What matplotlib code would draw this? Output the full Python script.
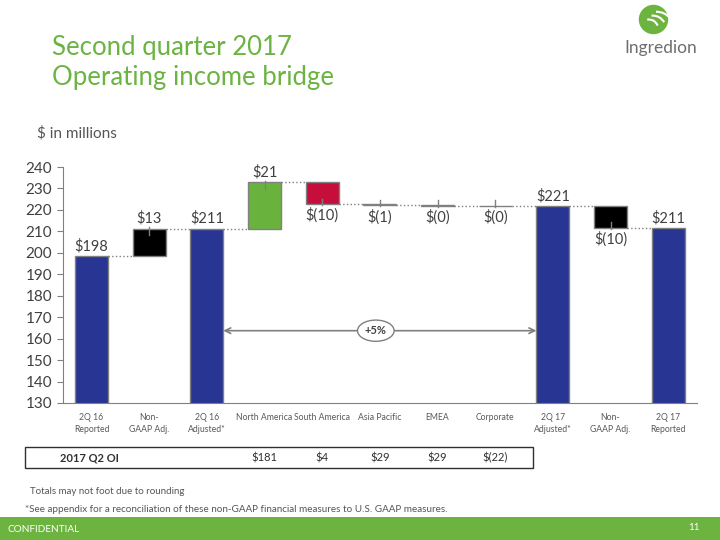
import matplotlib.pyplot as plt
from matplotlib.patches import Rectangle, Circle, Arc
from matplotlib.transforms import blended_transform_factory
import numpy as np

plt.rcParams['font.family'] = ['Lato', 'DejaVu Sans']

# bridge data ($ in millions)
categories = ['2Q 16\nReported', 'Non-\nGAAP Adj.', '2Q 16\nAdjusted*', 'North America', 'South America',
              'Asia Pacific', 'EMEA', 'Corporate', '2Q 17\nAdjusted*', 'Non-\nGAAP Adj.', '2Q 17\nReported']
values = [198.3, 13.0, 211.3, 21.6, -10.1, -0.6, -0.2, -0.1, 221.9, -10.2, 211.7]
is_total = [True, False, True, False, False, False, False, False, True, False, True]
value_labels = ['$198', '$13', '$211', '$21', '$(10)', '$(1)', '$(0)', '$(0)', '$221', '$(10)', '$211']
colors = ['#283593', '#000000', '#283593', '#6AB23E', '#C50E3C', '#C50E3C', '#C50E3C', '#C50E3C',
          '#283593', '#000000', '#283593']

# segment operating income table
table_title = '2017 Q2 OI'
table_cats = [3, 4, 5, 6, 7]
table_values = ['$181', '$4', '$29', '$29', '$(22)']
growth_label = '+5%'

GRAY = '#808080'
TEXT = '#404040'
GREEN = '#6BB342'

fig = plt.figure(figsize=(7.2, 5.4), dpi=100)
ax = fig.add_axes([62.7 / 720, 1 - 403 / 540, (697 - 62.7) / 720, (403 - 167) / 540])

x = np.arange(len(values))
w = 0.57
bottoms, tops = [], []
level = 0
for v, t in zip(values, is_total):
    if t:
        level = v
        bottoms.append(0)
        tops.append(v)
    else:
        start = level
        level = level + v
        bottoms.append(min(start, level))
        tops.append(max(start, level))
bottoms = np.array(bottoms)
tops = np.array(tops)

ax.bar(x, tops - bottoms, bottom=bottoms, width=w, color=colors, edgecolor=GRAY, linewidth=1, zorder=2)

# connectors and labels
level = 0
for i, (v, t) in enumerate(zip(values, is_total)):
    level = v if t else level + v
    if i < len(values) - 1:
        ax.plot([i + w / 2, i + 1 - w / 2], [level, level], color=GRAY, ls=':', lw=1, zorder=1)
    if t or v > 0:
        ax.text(i, tops[i] + 1.2, value_labels[i], ha='center', va='bottom', fontsize=10.5, color=TEXT)
        if not t:
            ax.plot([i, i], [tops[i] + 0.7, tops[i] - 3], color=GRAY, lw=1, zorder=3)
    else:
        ax.text(i, bottoms[i] - 1.8, value_labels[i], ha='center', va='top', fontsize=10.5, color=TEXT)
        ax.plot([i, i], [bottoms[i] - 0.5, bottoms[i] + 2.5], color=GRAY, lw=1, zorder=3)

# growth arrow
ax.annotate('', xy=(8 - w / 2, 163.7), xytext=(2 + w / 2, 163.7),
            arrowprops=dict(arrowstyle='<->', color=GRAY, lw=1.2, shrinkA=0, shrinkB=0))
ax.text(4.93, 163.7, growth_label, ha='center', va='center', fontsize=8, fontweight='bold', color=TEXT,
        bbox=dict(boxstyle='ellipse,pad=0.18', fc='white', ec=GRAY, lw=1))

ax.set_xlim(-0.5, 10.5)
ax.set_ylim(130, 240)
ax.set_yticks(np.arange(130, 241, 10))
ax.set_xticks(x)
ax.set_xticklabels(categories, fontsize=6.2, color='#595959', linespacing=1.5)
ax.tick_params(axis='x', length=0, pad=7)
ax.tick_params(axis='y', labelsize=11, colors=TEXT, length=4, color=GRAY)
ax.spines['top'].set_visible(False)
ax.spines['right'].set_visible(False)
ax.spines['left'].set_color(GRAY)
ax.spines['bottom'].set_color(GRAY)

# table box
fig.patches.append(Rectangle((25 / 720, 1 - 468 / 540), (533 - 25) / 720, 21 / 540,
                             transform=fig.transFigure, fill=False, ec='#303030', lw=1))
fig.text(60 / 720, 1 - 458 / 540, table_title, fontsize=8, fontweight='bold', color='#303030', va='center')
tr = blended_transform_factory(ax.transData, fig.transFigure)
for c, tv in zip(table_cats, table_values):
    fig.text(c, 1 - 458 / 540, tv, transform=tr, ha='center', va='center', fontsize=8, color='#303030')

# titles and notes
fig.text(52 / 720, 1 - 48 / 540, 'Second quarter 2017', fontsize=18.5, color=GREEN, va='center')
fig.text(52 / 720, 1 - 78 / 540, 'Operating income bridge', fontsize=18.5, color=GREEN, va='center')
fig.text(37 / 720, 1 - 133 / 540, '$ in millions', fontsize=11, color='#555555', va='center')
fig.text(30 / 720, 1 - 492 / 540, 'Totals may not foot due to rounding', fontsize=7, color='#555555', va='center')
fig.text(25 / 720, 1 - 509 / 540, '*See appendix for a reconciliation of these non-GAAP financial measures to U.S. GAAP measures.',
         fontsize=7.1, color='#555555', va='center')

# footer band
fig.patches.append(Rectangle((0, 0), 1, 23 / 540, transform=fig.transFigure, fc='#6DB33F', ec='none'))
fig.text(8 / 720, 11 / 540, 'CONFIDENTIAL', fontsize=7.2, color='white', va='center')
fig.text(700 / 720, 13 / 540, '11', fontsize=7, color='white', va='center', ha='right')

# logo
lax = fig.add_axes([638 / 720, 1 - 35 / 540, 31 / 720, 31 / 540])
lax.set_xlim(-1, 1)
lax.set_ylim(-1, 1)
lax.axis('off')
lax.add_patch(Circle((0, 0), 0.95, fc='#6DB33F', ec='none'))
for r, th in [(0.6, (20, 100)), (0.85, (30, 95)), (1.1, (40, 92))]:
    lax.add_patch(Arc((-0.9 + r, -0.6), 2 * r, 2 * r, theta1=th[0], theta2=th[1], color='white', lw=1.5))
fig.text(661 / 720, 1 - 48 / 540, 'Ingredion', fontsize=12.5, color='#6E6E6E', ha='center', va='center')

fig.savefig('out.png', dpi=100)
